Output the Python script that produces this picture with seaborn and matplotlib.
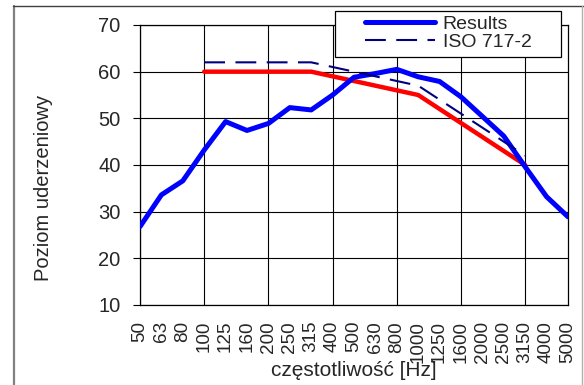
import matplotlib
matplotlib.use("Agg")
import matplotlib.pyplot as plt
from matplotlib.lines import Line2D
from matplotlib.patches import Rectangle
import seaborn as sns
import pandas as pd

# Third-octave band centre frequencies [Hz]
freqs = ["50", "63", "80", "100", "125", "160", "200", "250", "315", "400",
         "500", "630", "800", "1000", "1250", "1600", "2000", "2500",
         "3150", "4000", "5000"]

# Measured impact sound level
results = [26.8, 33.6, 36.6, 43.2, 49.3, 47.4, 48.9, 52.3, 51.8, 55.0,
           58.8, 59.6, 60.5, 58.9, 57.9, 54.6, 50.4, 46.2, 39.6, 33.2, 28.9]

# ISO 717-2 reference curve (100 - 3150 Hz)
iso_freqs = ["100", "125", "160", "200", "250", "315", "400", "500", "630",
             "800", "1000", "1250", "1600", "2000", "2500", "3150"]
iso_ref = [62, 62, 62, 62, 62, 62, 61, 60, 59, 58, 57, 54, 51, 48, 45, 42]

# Reference curve shifted onto the measurement
shifted = [60, 60, 60, 60, 60, 60, 59, 58, 57, 56, 55, 52, 49, 46, 43, 40]

pos = {f: i for i, f in enumerate(freqs)}
df_res = pd.DataFrame({"x": [pos[f] for f in freqs], "y": results})
df_iso = pd.DataFrame({"x": [pos[f] for f in iso_freqs], "ref": iso_ref,
                       "shift": shifted})

sns.set_theme(style="white")
plt.rcParams["font.family"] = ["Liberation Sans", "DejaVu Sans"]

W, H = 584, 385
fig = plt.figure(figsize=(W / 100, H / 100), dpi=100)
ax = fig.add_axes([140 / W, 1 - 305 / H, 428 / W, 280 / H])

sns.lineplot(data=df_iso, x="x", y="shift", ax=ax, color="#ff0000",
             linewidth=3.2, zorder=3, label="_nolegend_")
sns.lineplot(data=df_res, x="x", y="y", ax=ax, color="#0000ff",
             linewidth=3.6, zorder=4, label="Results")
sns.lineplot(data=df_iso, x="x", y="ref", ax=ax, color="#000080",
             linewidth=1.5, zorder=5, label="ISO 717-2")
ax.lines[-1].set_dashes([10, 5])

ax.set_xlim(0, len(freqs) - 1)
ax.set_ylim(10, 70)
ax.set_yticks(range(10, 71, 10))
ax.xaxis.remove_overlapping_locs = False
ax.set_xticks(range(len(freqs)))
ax.set_xticklabels(freqs, rotation=90)
ax.set_xticks(range(0, len(freqs), 3), minor=True)

ax.grid(False)
ax.grid(True, axis="y", which="major", color="#000000", linewidth=0.8)
ax.grid(True, axis="x", which="minor", color="#000000", linewidth=0.8)
ax.grid(False, axis="x", which="major")
ax.set_axisbelow(True)

ax.tick_params(axis="y", which="major", left=True, length=5, width=0.8,
               color="#000000", labelsize=14.5, pad=9)
ax.tick_params(axis="x", which="both", bottom=False, length=0,
               labelsize=13.6, pad=11.5)
for sp in ax.spines.values():
    sp.set_color("#000000")
    sp.set_linewidth(0.9)

ax.set_xlabel("częstotliwość [Hz]", fontsize=15)
ax.set_ylabel("Poziom uderzeniowy", fontsize=14.5)
ax.xaxis.set_label_coords(0.5, -0.2)
ax.yaxis.set_label_coords(-0.203, 0.418)

# Legend: frame drawn as a box that overlaps the top of the plot area
ax.get_legend().remove()
fig.add_artist(Rectangle((335 / W, 1 - 57 / H), 226 / W, 46 / H,
                         transform=fig.transFigure, facecolor="white",
                         edgecolor="#000000", linewidth=0.9, zorder=9))
handles = [ax.lines[1], ax.lines[2]]
leg = fig.legend(handles, ["Results", "ISO 717-2"],
                 loc="center left", bbox_to_anchor=(365 / W, 1 - 33 / H),
                 frameon=False, fontsize=14,
                 handlelength=3.6, handletextpad=0.4, borderpad=0,
                 labelspacing=0.05, borderaxespad=0)
leg.set_zorder(10)

# Outer frame of the figure
fig.add_artist(Line2D([13.5 / W, 13.5 / W], [0, 1 - 5.5 / H],
                      color="#808080", linewidth=1.6))
fig.add_artist(Line2D([13 / W, 1], [1 - 5.5 / H, 1 - 5.5 / H],
                      color="#404040", linewidth=1.0))
fig.add_artist(Line2D([582 / W, 582 / W], [0, 1 - 5.5 / H],
                      color="#b0b0b0", linewidth=1.0))

fig.savefig("out.png", dpi=100)
